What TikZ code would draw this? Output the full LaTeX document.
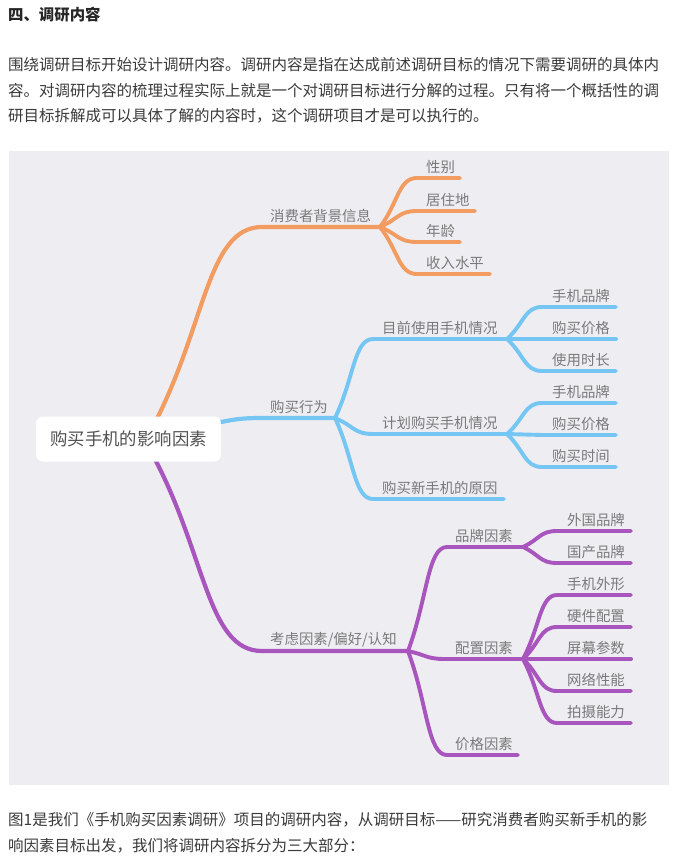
\documentclass[tikz,border=0pt]{standalone}
\usepackage{fontspec}
\setmainfont{Noto Sans CJK SC}
\usetikzlibrary{calc}
\definecolor{bgpanel}{HTML}{EEEEF2}
\definecolor{cOrange}{HTML}{F39C62}
\definecolor{cBlue}{HTML}{75C6F3}
\definecolor{cPurple}{HTML}{A855BE}
\definecolor{labelgray}{HTML}{7A7A7A}
\definecolor{bodytext}{HTML}{3A3A3A}
\tikzset{
  para/.style={anchor=west,inner sep=0pt,text=bodytext,font=\fontsize{15.5}{16}\selectfont},
  label text/.style={anchor=west,inner sep=0pt,text=labelgray,font=\fontsize{14.4}{15}\selectfont},
  conn/.style={line width=3.9pt,line cap=round,line join=round},
  mainconn/.style={line width=4.2pt,line cap=round,line join=round},
}
% #1 style, #2 from, #3 id, #4 start x, #5 end x, #6 y, #7 label x, #8 text
\newcommand{\branchline}[8]{%
  \coordinate (#3s) at (#4,#6);
  \coordinate (#3e) at (#5,#6);
  \coordinate (#3m) at ($(#2)!.5!(#3s)$);
  \draw[#1] (#2) .. controls (#3m) and (#3m |- #3s) .. (#3s) -- (#3e);
  \node[label text] (#3l) at (#7,#6-11) {#8};
}
\begin{document}
\begin{tikzpicture}[x=1pt,y=-1pt]
\useasboundingbox (0,0) rectangle (672,861);
\fill[white] (0,0) rectangle (672,861);
\node[para,font=\fontsize{15.4}{16}\selectfont\bfseries,text=black!85] (title) at (8,15) {四、调研内容};
\node[para] (p1) at (8,65) {围绕调研目标开始设计调研内容。调研内容是指在达成前述调研目标的情况下需要调研的具体内};
\node[para] (p2) at (8,91) {容。对调研内容的梳理过程实际上就是一个对调研目标进行分解的过程。只有将一个概括性的调};
\node[para] (p3) at (8,116) {研目标拆解成可以具体了解的内容时，这个调研项目才是可以执行的。};
\fill[bgpanel] (9,151) rectangle (669,785);
\node[para] (p4) at (8,820) {图1是我们《手机购买因素调研》项目的调研内容，从调研目标——研究消费者购买新手机的影};
\node[para] (p5) at (8,846) {响因素目标出发，我们将调研内容拆分为三大部分：};

\coordinate (rootO) at (150,432);
\coordinate (rootB) at (200,425);
\coordinate (rootP) at (150,450);
\coordinate (hubO) at (380,227);
\coordinate (hubB) at (335,418);
\coordinate (hubP) at (408,651);
% orange
\branchline{mainconn,cOrange}{rootO}{o}{262}{380}{227}{270}{消费者背景信息}
\branchline{conn,cOrange}{hubO}{oa}{417}{460}{178}{426}{性别}
\branchline{conn,cOrange}{hubO}{ob}{417}{475}{211}{426}{居住地}
\branchline{conn,cOrange}{hubO}{oc}{417}{460}{242}{426}{年龄}
\branchline{conn,cOrange}{hubO}{od}{417}{490}{274}{426}{收入水平}
% blue
\branchline{mainconn,cBlue}{rootB}{b}{262}{335}{418}{270}{购买行为}
\branchline{conn,cBlue}{hubB}{ba}{373}{507}{339}{382}{目前使用手机情况}
\coordinate (hubBa) at (507,339);
\branchline{conn,cBlue}{hubBa}{baa}{542}{616}{307}{552}{手机品牌}
\branchline{conn,cBlue}{hubBa}{bab}{542}{616}{339}{552}{购买价格}
\branchline{conn,cBlue}{hubBa}{bac}{542}{616}{371}{552}{使用时长}
\branchline{conn,cBlue}{hubB}{bb}{373}{507}{434}{382}{计划购买手机情况}
\coordinate (hubBb) at (507,434);
\branchline{conn,cBlue}{hubBb}{bba}{542}{616}{403}{552}{手机品牌}
\branchline{conn,cBlue}{hubBb}{bbb}{542}{616}{435}{552}{购买价格}
\branchline{conn,cBlue}{hubBb}{bbc}{542}{616}{467}{552}{购买时间}
\branchline{conn,cBlue}{hubB}{bc}{373}{504}{499}{382}{购买新手机的原因}
% purple
\branchline{mainconn,cPurple}{rootP}{p}{262}{408}{651}{270}{考虑因素/偏好/认知}
\branchline{conn,cPurple}{hubP}{pa}{447}{523}{547}{455}{品牌因素}
\coordinate (hubPa) at (523,547);
\branchline{conn,cPurple}{hubPa}{paa}{557}{631}{531}{567}{外国品牌}
\branchline{conn,cPurple}{hubPa}{pab}{557}{631}{563}{567}{国产品牌}
\branchline{conn,cPurple}{hubP}{pb}{445}{523}{659}{455}{配置因素}
\coordinate (hubPb) at (523,659);
\branchline{conn,cPurple}{hubPb}{pba}{557}{631}{595}{567}{手机外形}
\branchline{conn,cPurple}{hubPb}{pbb}{557}{631}{627}{567}{硬件配置}
\branchline{conn,cPurple}{hubPb}{pbc}{557}{631}{659}{567}{屏幕参数}
\branchline{conn,cPurple}{hubPb}{pbd}{557}{631}{691}{567}{网络性能}
\branchline{conn,cPurple}{hubPb}{pbe}{557}{631}{723}{567}{拍摄能力}
\branchline{conn,cPurple}{hubP}{pc}{447}{518}{755}{455}{价格因素}
% root
\node[fill=white,rounded corners=7pt,inner sep=0pt,minimum width=185pt,minimum height=45pt,
      text=black!68,font=\fontsize{17.4}{18}\selectfont] (root) at (128.5,439) {购买手机的影响因素};
\end{tikzpicture}
\end{document}
